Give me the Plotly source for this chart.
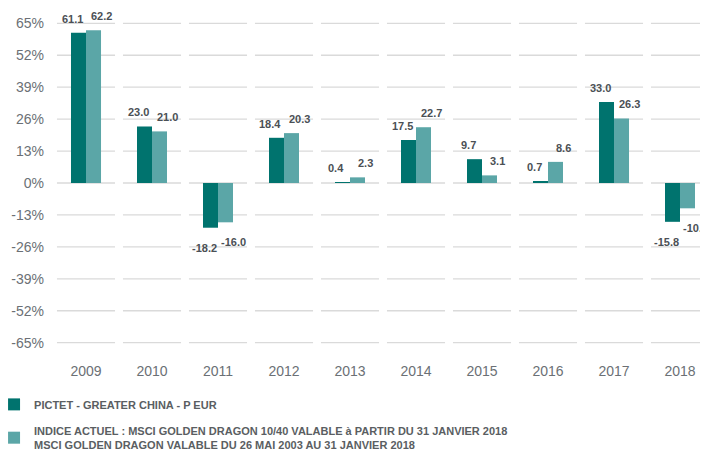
import plotly.graph_objects as go

years = ["2009", "2010", "2011", "2012", "2013", "2014", "2015", "2016", "2017", "2018"]
fund = [61.1, 23.0, -18.2, 18.4, 0.4, 17.5, 9.7, 0.7, 33.0, -15.8]
index = [62.2, 21.0, -16.0, 20.3, 2.3, 22.7, 3.1, 8.6, 26.3, -10.3]
tick_vals = [-65, -52, -39, -26, -13, 0, 13, 26, 39, 52, 65]
tick_text = [f"{t}%" for t in tick_vals]

fund_name = "PICTET - GREATER CHINA - P EUR"
index_name = ("INDICE ACTUEL : MSCI GOLDEN DRAGON 10/40 VALABLE à PARTIR DU 31 JANVIER 2018"
              "<br>MSCI GOLDEN DRAGON VALABLE DU 26 MAI 2003 AU 31 JANVIER 2018")

DARK = "#00736E"
LIGHT = "#5BA6A7"
LABEL_C = "#4B5055"
TICK_C = "#6B7075"

fig = go.Figure()
fig.add_trace(go.Bar(x=years, y=fund, name="<b>" + fund_name + "</b>", marker_color=DARK,
                     marker_line_width=0, legendgroup="a"))
fig.add_trace(go.Bar(x=years, y=index, name="<b>" + index_name.replace("<br>", "</b><br><b>") + "</b>",
                     marker_color=LIGHT, marker_line_width=0, legendgroup="b"))

# segmented gridlines
shapes = []
for t in tick_vals:
    for i in range(len(years)):
        shapes.append(dict(type="line", xref="x", yref="y", x0=i - 0.44, x1=i + 0.44, y0=t, y1=t,
                           line=dict(color="#DADADA", width=1.3), layer="below"))

annotations = []
for series, xs in ((fund, -14), (index, 15)):
    for i, v in enumerate(series):
        annotations.append(dict(x=i, y=v, xref="x", yref="y", text=f"<b>{v:.1f}</b>", showarrow=False,
                                xshift=xs, yshift=14 if v >= 0 else -20, yanchor="middle",
                                font=dict(family="Liberation Sans", size=11, color=LABEL_C)))

fig.update_layout(
    width=700, height=442,
    margin=dict(l=45, r=0, t=3, b=95, autoexpand=False),
    paper_bgcolor="white", plot_bgcolor="white",
    barmode="group", bargap=0.545, bargroupgap=0,
    shapes=shapes, annotations=annotations,
    showlegend=True,
    legend=dict(x=-0.09, xanchor="left", yref="container", y=0.136, yanchor="top", orientation="v",
                font=dict(family="Liberation Sans", size=11, color="#5A5E62"),
                tracegroupgap=8, itemclick=False),
    xaxis=dict(type="category", range=[-0.5, 9.424], showgrid=False, zeroline=False, showline=False,
               ticks="", tickfont=dict(family="Liberation Sans", size=14, color=TICK_C),
               ticklabelstandoff=6),
    yaxis=dict(range=[-70, 70], tickvals=tick_vals, ticktext=tick_text, showgrid=False, zeroline=False,
               showline=False, ticks="", tickfont=dict(family="Liberation Sans", size=14, color=TICK_C),
               ticklabelstandoff=8),
)

fig.write_html("out.html")
